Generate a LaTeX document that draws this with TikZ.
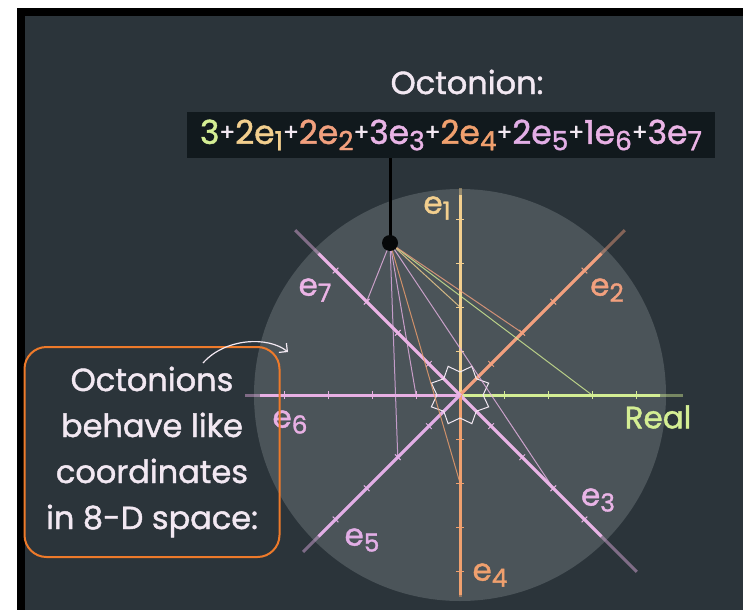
\documentclass[tikz,border=0pt]{standalone}
\usepackage{fontspec}
\setmainfont{Poppins}[FakeBold=1.3]
\usepackage{tikz}
\usetikzlibrary{calc,arrows.meta}

\definecolor{slate}{HTML}{2B343A}
\definecolor{disc}{HTML}{4B5459}
\definecolor{panel}{HTML}{11191D}
\definecolor{realc}{HTML}{D4EE94}
\definecolor{eone}{HTML}{F3CF8E}
\definecolor{etwo}{HTML}{F2A07E}
\definecolor{ethree}{HTML}{E9B4E6}
\definecolor{efour}{HTML}{F0A06E}
\definecolor{efive}{HTML}{E2AEE6}
\definecolor{esix}{HTML}{E8B0E4}
\definecolor{eseven}{HTML}{EBB4E6}
\definecolor{boxline}{HTML}{EE7A2A}
\definecolor{chalk}{HTML}{F2E8F2}

\newcommand{\ebase}[1]{e\raisebox{-0.35ex}{\scalebox{0.8}{#1}}}
\newcommand{\plusb}{\raisebox{0.2ex}{\scalebox{0.7}{\textcolor{chalk}{+}}}}

\begin{document}
\begin{tikzpicture}[x=1pt,y=-1pt,
        axis/.style={line width=3pt},
        fan/.style={line width=1pt,opacity=0.8},
        tickmark/.style={line width=1pt},
        lbl/.style={font=\fontsize{31}{31}\selectfont},
        big/.style={font=\fontsize{32}{46}\selectfont}]
            % frame and background
            \fill[white] (0,0) rectangle (743,610);
            \fill[black] (17,8) rectangle (743,610);
            \fill[slate] (25,16) rectangle (743,610);

            \coordinate (o) at (460,395);
            \fill[disc] (o) circle (206);

            % axes, ticks and the octonion's coordinate points
            \foreach \ang/\len/\col/\nm/\val in {0/223/realc/re/3, 90/207/eone/e1/2,
                45/233/etwo/e2/2, -45/250/ethree/e3/3, -90/202/efour/e4/2,
                -135/222/efive/e5/2, 180/215/esix/e6/1, 135/233/eseven/e7/3}{
                \begin{scope}[shift={(o)},rotate=\ang]
                    \draw[axis,\col,opacity=0.45] (0,0) -- (\len,0);
                    \begin{scope}
                        \clip (0,0) circle (200);
                        \draw[axis,\col] (0,0) -- (\len,0);
                    \end{scope}
                    \foreach \k in {1,...,4}{
                        \draw[tickmark,\col] (44*\k,-4) -- (44*\k,4);
                    }
                    \coordinate (p\nm) at (44*\val,0);
                \end{scope}
            }

            % star at the origin
            \draw[chalk,line width=1pt,shift={(o)}] (0:23pt)
                \foreach \i in {1,...,15}{ -- ({\i*22.5}:{ifthenelse(isodd(\i),31,23)*1pt}) } -- cycle;

            % projection lines
            \coordinate (dot) at (390,243);
            \foreach \nm/\col in {re/realc, e1/eone, e2/etwo, e3/ethree,
                e4/efour, e5/efive, e6/esix, e7/eseven}{
                \draw[fan,\col] (dot) -- (p\nm);
            }

            % axis labels
            \node[lbl,eone] (l1) at (437,208) {\ebase{1}};
            \node[lbl,etwo] (l2) at (607,290) {\ebase{2}};
            \node[lbl,ethree] (l3) at (598,500) {\ebase{3}};
            \node[lbl,efour] (l4) at (490,575) {\ebase{4}};
            \node[lbl,efive] (l5) at (362,540) {\ebase{5}};
            \node[lbl,esix] (l6) at (290,422) {\ebase{6}};
            \node[lbl,eseven] (l7) at (315,290) {\ebase{7}};
            \node[lbl,realc] (lre) at (658,417) {Real};

            % formula
            \node[big,chalk] (title) at (467,82) {Octonion:};
            \node[fill=panel,minimum width=528,minimum height=46,inner sep=0pt,
                font=\fontsize{33}{33}\selectfont] (formula) at (451,135)
                {\textcolor{realc}{3}\plusb\textcolor{eone}{2\ebase{1}}\plusb
                 \textcolor{etwo}{2\ebase{2}}\plusb\textcolor{ethree}{3\ebase{3}}\plusb
                 \textcolor{efour}{2\ebase{4}}\plusb\textcolor{efive}{2\ebase{5}}\plusb
                 \textcolor{esix}{1\ebase{6}}\plusb\textcolor{eseven}{3\ebase{7}}};
            \draw[black,line width=3pt] (formula.south -| dot) -- (dot);
            \fill[black!85!slate] (dot) circle (8);

            % note on the left
            \node[big,chalk,draw=boxline,line width=2pt,rounded corners=22pt,
                minimum width=255,minimum height=210,align=center] (note) at (152,452)
                {Octonions\\behave like\\coordinates\\in 8-D space:};
            \coordinate (arrowfrom) at (203,363);
            \coordinate (arrowto) at (288,352);
            \draw[chalk,line width=1.2pt,-{Straight Barb[length=6pt]}] (arrowfrom)
                .. controls (225,338) and (268,336) .. (arrowto);
        \end{tikzpicture}
\end{document}
